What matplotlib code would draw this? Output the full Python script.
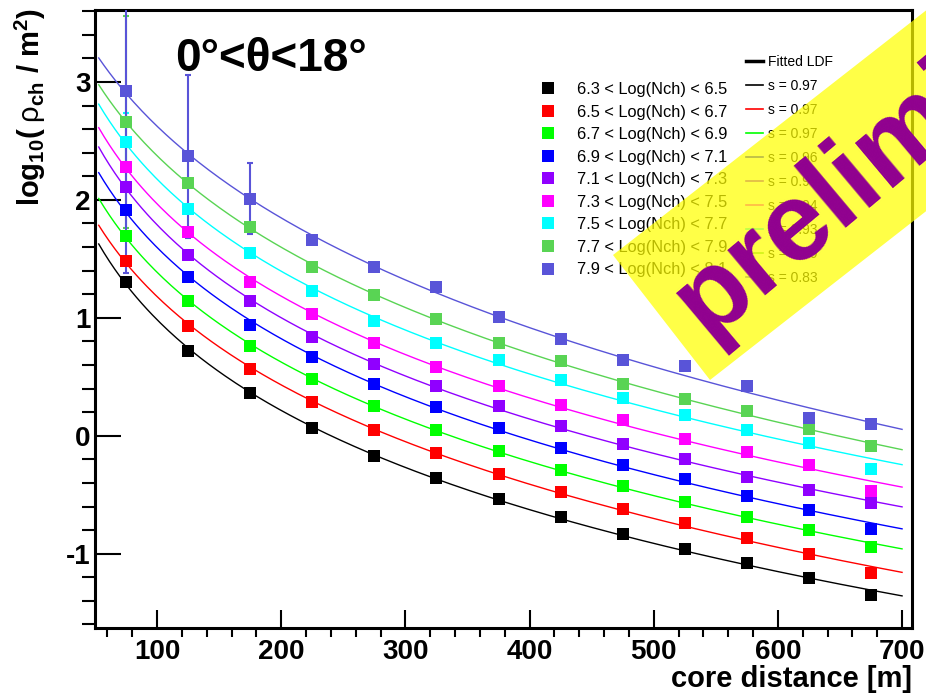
import numpy as np
import matplotlib
matplotlib.use('Agg')
import matplotlib.pyplot as plt
from matplotlib.lines import Line2D
from matplotlib.patches import Polygon

plt.rcParams['font.family'] = ['Liberation Sans', 'DejaVu Sans']
plt.rcParams['axes.unicode_minus'] = False
plt.rcParams['mathtext.fontset'] = 'custom'
plt.rcParams['mathtext.rm'] = 'Liberation Sans'
plt.rcParams['mathtext.bf'] = 'Liberation Sans:bold'
plt.rcParams['mathtext.it'] = 'Liberation Sans'

# core distance bins [m]
distance = [75, 125, 175, 225, 275, 325, 375, 425, 475, 525, 575, 625, 675]

# log10(rho_ch / m^2) per Nch bin
bins = ['6.3 < Log(Nch) < 6.5', '6.5 < Log(Nch) < 6.7', '6.7 < Log(Nch) < 6.9',
        '6.9 < Log(Nch) < 7.1', '7.1 < Log(Nch) < 7.3', '7.3 < Log(Nch) < 7.5',
        '7.5 < Log(Nch) < 7.7', '7.7 < Log(Nch) < 7.9', '7.9 < Log(Nch) < 8.1']
s_values = ['0.97', '0.97', '0.97', '0.96', '0.95', '0.94', '0.93', '0.89', '0.83']
colors = ['black', '#ff0000', '#00ff00', '#0000ff', '#9000ff', '#ff00ff',
          '#00ffff', '#59d454', '#5954d8']

rho_63 = [1.30, 0.72, 0.36, 0.07, -0.17, -0.36, -0.54, -0.69, -0.83, -0.96, -1.08, -1.21, -1.35]
rho_65 = [1.48, 0.93, 0.57, 0.29, 0.05, -0.15, -0.32, -0.48, -0.62, -0.74, -0.87, -1.00, -1.16]
rho_67 = [1.69, 1.14, 0.76, 0.48, 0.25, 0.05, -0.13, -0.29, -0.43, -0.56, -0.69, -0.80, -0.94]
rho_69 = [1.91, 1.35, 0.94, 0.67, 0.44, 0.24, 0.07, -0.10, -0.25, -0.37, -0.51, -0.63, -0.79]
rho_71 = [2.11, 1.53, 1.14, 0.84, 0.61, 0.42, 0.25, 0.08, -0.07, -0.20, -0.35, -0.46, -0.57]
rho_73 = [2.28, 1.73, 1.30, 1.03, 0.79, 0.58, 0.42, 0.26, 0.13, -0.03, -0.14, -0.25, -0.47]
rho_75 = [2.49, 1.92, 1.55, 1.23, 0.97, 0.79, 0.64, 0.47, 0.32, 0.18, 0.05, -0.06, -0.28]
rho_77 = [2.66, 2.14, 1.77, 1.43, 1.19, 0.99, 0.79, 0.63, 0.44, 0.31, 0.21, 0.06, -0.09]
rho_79 = [2.92, 2.37, 2.01, 1.66, 1.43, 1.26, 1.01, 0.82, 0.64, 0.59, 0.42, 0.15, 0.10]
series = [rho_63, rho_65, rho_67, rho_69, rho_71, rho_73, rho_75, rho_77, rho_79]

# visible error bars (first bins only)
err_75 = [0.25, 0, 0, 0, 0, 0, 0, 0, 0, 0, 0, 0, 0]
err_77 = [0.90, 0, 0, 0, 0, 0, 0, 0, 0, 0, 0, 0, 0]
err_79 = [1.54, 0.69, 0.30, 0, 0, 0, 0, 0, 0, 0, 0, 0, 0]
errors = {6: err_75, 7: err_77, 8: err_79}

W, H = 926, 694
fig = plt.figure(figsize=(W / 100, H / 100), dpi=100)
ax = fig.add_axes([95 / W, 1 - 628 / H, (912 - 95) / W, (628 - 10) / H])

r = np.array(distance, dtype=float)
r_fit = np.linspace(53, 700, 300)
for i, (vals, c) in enumerate(zip(series, colors)):
    # fitted LDF: quadratic in log10(r)
    coef = np.polyfit(np.log10(r), vals, 2)
    ax.plot(r_fit, np.polyval(coef, np.log10(r_fit)), color=c, lw=1.0, zorder=2)
for i, (vals, c) in enumerate(zip(series, colors)):
    if i in errors:
        ax.errorbar(distance, vals, yerr=errors[i], fmt='none', ecolor=c,
                    elinewidth=1.5, capsize=2.5, capthick=1.5, zorder=3)
    ax.plot(distance, vals, 's', color=c, ms=9, mew=0, zorder=4)

ax.set_xlim(50, 708)
ax.set_ylim(-1.63, 3.61)
ax.set_xticks([100, 200, 300, 400, 500, 600, 700])
ax.set_xticks(np.arange(60, 708, 20), minor=True)
ax.set_yticks([-1, 0, 1, 2, 3])
ax.set_yticks(np.arange(-1.6, 3.61, 0.2), minor=True)
ax.tick_params(axis='both', direction='in', width=1.5, labelsize=20)
ax.tick_params(axis='x', which='major', length=13, pad=8)
ax.tick_params(axis='x', which='minor', length=6.5, width=1.5)
ax.tick_params(axis='y', which='major', length=18.5, pad=3)
ax.tick_params(axis='y', which='minor', length=9.5, width=1.5)
for lab in ax.get_xticklabels() + ax.get_yticklabels():
    lab.set_fontweight('bold')
for sp in ax.spines.values():
    sp.set_linewidth(2.2)

fig.text(912 / W, 1 - 687 / H, 'core distance [m]', ha='right', va='baseline',
         fontsize=21, fontweight='bold')
fig.text(30 / W, 1 - 8 / H,
         r'$\mathbf{log_{10}(\;}\rho_{\mathbf{ch}}\mathbf{\ /\ m^{2})}$',
         rotation=90, ha='center', va='top', fontsize=21)
fig.text(175 / W, 1 - 71 / H, '0°<θ<18°', ha='left', va='baseline',
         fontsize=33, fontweight='bold')

# legends
h1 = [Line2D([], [], ls='none', marker='s', ms=8, mew=0, color=c) for c in colors]
leg1 = fig.legend(h1, bins, loc='upper left', bbox_to_anchor=(540 / W, 1 - 82 / H),
                  frameon=False, fontsize=11.8, handlelength=1.0, handletextpad=1.28,
                  labelspacing=0.46, borderpad=0, borderaxespad=0)
h2 = [Line2D([], [], color='black', lw=2.5)] + [Line2D([], [], color=c, lw=1.2) for c in colors]
lab2 = ['Fitted LDF'] + ['s = ' + s for s in s_values]
leg2 = fig.legend(h2, lab2, loc='upper left', bbox_to_anchor=(746 / W, 1 - 55 / H),
                  frameon=False, fontsize=10, handlelength=1.22, handletextpad=0.36,
                  labelspacing=0.72, borderpad=0, borderaxespad=0)

# preliminary banner
ang = np.deg2rad(38)
d = np.array([np.cos(ang), -np.sin(ang)]) * 700
A = np.array([613, 255])
B = np.array([710, 380])
pts = [A, B, B + d, A + d]
poly = Polygon([(p[0] / W, 1 - p[1] / H) for p in pts], closed=True,
               transform=fig.transFigure, facecolor='#ffff00', edgecolor='none',
               alpha=0.72, zorder=10)
fig.patches.append(poly)
fig.text(707 / W, 1 - 338 / H, 'preliminary', rotation=40, rotation_mode='anchor',
         ha='left', va='baseline', fontsize=80, fontweight='bold', color='#900090',
         zorder=11)

fig.savefig('out.png', dpi=100)
